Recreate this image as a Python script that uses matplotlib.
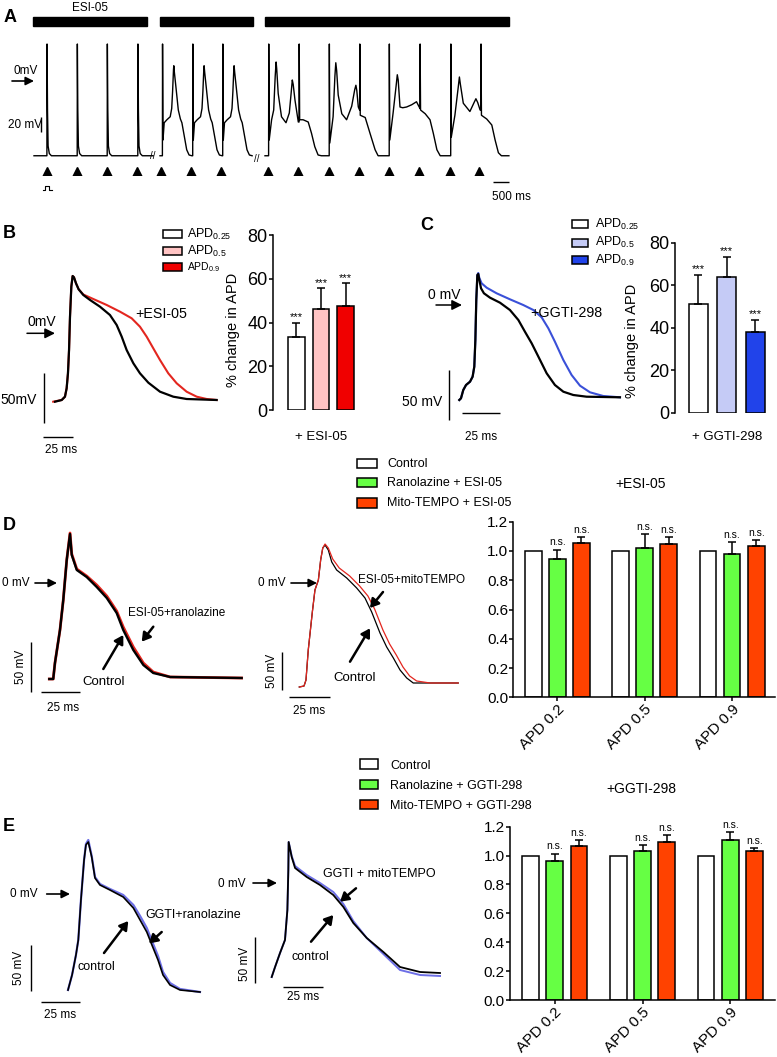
import matplotlib
matplotlib.use('Agg')
import matplotlib.pyplot as plt
from matplotlib.patches import Rectangle
from matplotlib.ticker import FormatStrFormatter
import numpy as np

plt.rcParams['font.family'] = ['Liberation Sans', 'DejaVu Sans']
plt.rcParams['mathtext.fontset'] = 'custom'
plt.rcParams['mathtext.rm'] = 'Liberation Sans'
plt.rcParams['mathtext.it'] = 'Liberation Sans:italic'
plt.rcParams['mathtext.bf'] = 'Liberation Sans:bold'

W, H = 777, 1057

# ------------------------------------------------------------------ data
# Panel A  (time in s, membrane potential in mV)
a_seg1_span = [0.0, 3.97]
a_seg1_spikes = [0.43, 1.44, 2.44, 3.46]
a_spike_t = [0.0, 0.005, 0.02, 0.04, 0.08, 0.15]
a_spike_v = [-101, 48, -40, -88, -98, -101]

a_seg2_span = [4.2, 7.27]
a_seg2_beats = [4.28, 5.29, 6.29]
a_ead_t = [0.0, 0.005, 0.02, 0.06, 0.15, 0.26, 0.31, 0.34, 0.37, 0.38, 0.40, 0.45, 0.53, 0.60, 0.65, 0.73, 0.81, 0.89, 0.98]
a_ead_v = [-101, 48, -80, -57, -53, -49, -38, -15, 14, 19, 10, -9, -40, -52, -57, -75, -93, -100, -101]

a_seg3_span = [7.7, 15.83]
a_seg3_pairs = [7.82, 9.84, 11.84, 13.89]
a_pair1_t = [0, 0.005, 0.02, 0.1, 0.17, 0.22, 0.25, 0.27, 0.32, 0.43, 0.58, 0.69, 0.75, 0.79, 0.82, 0.88, 0.99, 1.015, 1.02, 1.035, 1.15, 1.32, 1.43, 1.54, 1.65, 1.76]
a_pair1_v = [-101, 48, -80, -53, -40, 5, 24, 15, -18, -49, -57, -44, -18, 0, -6, -27, -56, -56, 48, -53, -53, -56, -71, -89, -100, -101]
a_pair2_t = [0, 0.005, 0.02, 0.13, 0.19, 0.22, 0.25, 0.3, 0.42, 0.58, 0.75, 0.85, 0.89, 0.92, 0.97, 1.015, 1.02, 1.035, 1.2, 1.36, 1.53, 1.63]
a_pair2_v = [-101, 48, -84, -49, 5, 23, 12, -20, -45, -53, -35, -13, -7, -14, -36, -40, 48, -47, -50, -71, -93, -101]
a_pair3_t = [0, 0.005, 0.02, 0.13, 0.23, 0.27, 0.3, 0.36, 0.45, 0.58, 0.75, 0.91, 1.0, 1.025, 1.03, 1.045, 1.2, 1.36, 1.47, 1.59, 1.7]
a_pair3_v = [-101, 48, -80, -44, -8, 7, 0, -36, -37, -36, -33, -29, -36, -38, 48, -40, -45, -53, -71, -93, -101]
a_pair4_t = [0, 0.005, 0.02, 0.14, 0.25, 0.29, 0.32, 0.42, 0.64, 0.78, 0.84, 0.9, 0.98, 1.005, 1.01, 1.025, 1.2, 1.37, 1.48, 1.59, 1.69]
a_pair4_v = [-101, 48, -76, -47, -10, 4, -5, -31, -42, -30, -25, -30, -40, -40, 48, -47, -52, -60, -80, -97, -101]
a_stim_times = [0.43, 1.43, 2.43, 3.43, 4.23, 5.23, 6.23,
                7.8, 8.8, 9.83, 10.83, 11.83, 12.83, 13.87, 14.83]

# Panel B traces (ms, mV)
b_ctrl_t = [0, 5.6, 8.3, 9.7, 10.8, 11.7, 12.5, 13.6, 14.7, 15.8, 17.5, 19.7, 23.6, 29.2, 37.5, 45.8, 51.4, 55.6, 59.7, 65.3, 70.8, 77.8, 87.5, 98.6, 109.7, 134.7]
b_ctrl_v = [-68.7, -67, -63.7, -55.3, -40.3, -17, 16.3, 46.3, 57, 55.7, 49.7, 43.7, 38, 33, 26.3, 18, 8, -3.7, -17, -30.3, -40.3, -49.7, -58.7, -63.7, -66, -67]
b_esi_t = [-1.5, 5.6, 8.3, 9.7, 10.8, 11.7, 12.5, 13.6, 14.7, 15.8, 17.5, 19.7, 23.6, 31.9, 43.1, 54.2, 63.9, 70.8, 76.4, 81.9, 87.5, 94.4, 101.4, 109.7, 118.1, 126.4, 134.7]
b_esi_v = [-68.7, -67, -63.7, -55.3, -40.3, -17, 16.3, 46.3, 57, 55.7, 49.7, 43.7, 38.5, 34, 28, 21.3, 14.7, 6.3, -3.7, -15.3, -27, -40.3, -50.3, -58.7, -63.7, -66, -67]
b_labels = ['APD$_{0.25}$', 'APD$_{0.5}$', 'APD$_{0.9}$']
b_values = [33.2, 46.4, 47.5]
b_err = [6.7, 9.2, 10.4]

# Panel C traces
c_ctrl_t = [0, 1.1, 2.6, 4.4, 7.0, 8.7, 9.8, 10.5, 11.1, 11.8, 12.4, 13.1, 14.2, 16.1, 20.1, 26.6, 33.1, 38.6, 42.9, 47.3, 51.7, 57.1, 62.5, 68.0, 74.5, 83.2, 105.0]
c_ctrl_v = [-95, -93.3, -85, -80, -76.7, -71.7, -61.7, -35, 5, 30, 31, 25, 16.7, 11.7, 7.3, 2.3, -5, -15, -26.7, -38.3, -51.7, -68.3, -80, -86.7, -90, -91.7, -92.3]
c_ggti_t = [0, 1.1, 2.6, 4.4, 7.0, 8.7, 9.8, 10.5, 11.1, 11.8, 12.4, 13.1, 14.6, 17.9, 24.4, 33.1, 41.8, 48.4, 53.8, 58.2, 62.5, 68.0, 73.4, 78.9, 85.4, 94.1, 105.0]
c_ggti_v = [-95, -93.3, -85, -80, -76.7, -71.7, -61.7, -35, 5, 30, 32, 27, 21.7, 17.3, 11.7, 5.7, 0, -5, -12.3, -23.3, -36.7, -55, -70, -80.7, -87.3, -91, -92.3]
c_labels = ['APD$_{0.25}$', 'APD$_{0.5}$', 'APD$_{0.9}$']
c_values = [51.1, 63.7, 38.1]
c_err = [13.7, 9.7, 5.5]

# Panel D traces
d1_ctrl_t = [0, 2.5, 3.6, 6.8, 8.9, 11.1, 13.2, 14.3, 17.5, 23.8, 30.2, 36.6, 42.9, 47.1, 53.5, 59.9, 66.2, 77.0, 122.5]
d1_ctrl_v = [-96, -96, -80, -47, -17, 23, 49, 28, 13, 6, -4, -15, -30, -47, -67, -82, -90, -94, -95]
d1_ran_t = [0, 2.5, 3.6, 6.8, 8.9, 11.1, 13.2, 14.3, 17.5, 23.8, 30.2, 36.6, 42.9, 47.1, 53.5, 59.9, 66.2, 77.0, 122.5]
d1_ran_v = [-96, -96, -80, -47, -17, 23, 50, 29, 14, 7, -2, -13, -28, -44, -64, -80, -89, -94, -95]
d2_ctrl_t = [0, 2.9, 4.1, 5.5, 8.0, 9.6, 11.7, 13.1, 14.4, 15.8, 17.8, 19.9, 22.9, 29.1, 35.2, 40.3, 44.4, 49.5, 53.6, 57.7, 61.8, 65.9, 69.9, 80.2, 97.5]
d2_ctrl_v = [-104, -103, -97, -67, -29, -7, 3, 23, 35, 38, 33, 21, 13, 5, -5, -15, -29, -50, -64, -75, -87, -95, -100, -100, -100]
d2_mito_t = [0, 2.9, 4.1, 5.5, 8.0, 9.6, 11.7, 13.1, 14.4, 15.8, 17.8, 20.5, 24.5, 30.9, 37.0, 42.1, 46.2, 51.3, 55.4, 59.5, 63.6, 67.7, 72.0, 80.2, 97.5]
d2_mito_v = [-104, -103, -97, -67, -29, -7, 3, 23, 35, 39, 35, 24, 15, 7, -3, -13, -26, -47, -61, -72, -84, -93, -98, -100, -100]
d_groups = ['APD 0.2', 'APD 0.5', 'APD 0.9']
d_control = [1.0, 1.0, 1.0]
d_ran = [0.945, 1.018, 0.977]
d_ran_err = [0.065, 0.098, 0.087]
d_mito = [1.053, 1.048, 1.034]
d_mito_err = [0.041, 0.046, 0.041]
d_legend = ['Control', 'Ranolazine + ESI-05', 'Mito-TEMPO + ESI-05']

# Panel E traces
e1_ctrl_t = [0, 2.6, 5.1, 6.6, 8.3, 10.3, 11.5, 13.0, 15.2, 17.3, 20.5, 26.9, 35.4, 41.9, 46.2, 50.5, 53.8, 57.7, 60.9, 65.4, 71.8, 84.6]
e1_ctrl_v = [-96, -81, -61, -46, -6, 34, 49, 52, 37, 16, 9, 4, -3, -14, -26, -38, -51, -66, -81, -91, -96, -98]
e1_ran_t = [0, 2.6, 5.1, 6.6, 8.3, 10.3, 11.5, 13.0, 15.2, 17.3, 20.5, 26.9, 35.4, 41.9, 46.2, 50.5, 53.8, 57.7, 60.9, 65.4, 71.8, 84.6]
e1_ran_v = [-96, -81, -61, -46, -6, 34, 50, 54, 38, 17, 10, 5, -1, -11, -22, -34, -47, -62, -78, -89, -95, -98]
e2_ctrl_t = [0, 2.1, 5.2, 8.3, 9.8, 10.4, 10.6, 12.5, 14.6, 21.9, 30.2, 38.5, 44.8, 51.0, 59.4, 69.8, 80.2, 92.7, 105.2]
e2_ctrl_v = [-94, -84, -70, -57, -27, 13, 41, 26, 15, 6, -2, -12, -24, -40, -55, -69, -84, -89, -90]
e2_mito_t = [0, 2.1, 5.2, 8.3, 9.8, 10.4, 10.6, 12.5, 14.6, 21.9, 30.2, 38.5, 44.8, 51.0, 59.4, 69.8, 80.2, 92.7, 105.2]
e2_mito_v = [-94, -84, -70, -57, -27, 13, 41, 27, 17, 8, 0, -9, -21, -38, -55, -71, -87, -92, -93]
e_groups = ['APD 0.2', 'APD 0.5', 'APD 0.9']
e_control = [1.0, 1.0, 1.0]
e_ran = [0.961, 1.03, 1.11]
e_ran_err = [0.053, 0.041, 0.05]
e_mito = [1.069, 1.094, 1.03]
e_mito_err = [0.036, 0.046, 0.022]
e_legend = ['Control', 'Ranolazine + GGTI-298', 'Mito-TEMPO + GGTI-298']

# ------------------------------------------------------------------ colours
GREEN = '#66ff44'
ORANGE = '#ff4200'
PINK = '#ffc3c3'
RED = '#f00000'
LBLUE = '#c5cbf6'
BLUE = '#2143ea'
TRACE_RED = '#e3261f'
TRACE_BLUE = '#3a50d8'
TRACE_LBLUE = '#6d6fe6'

fig = plt.figure(figsize=(W / 100, H / 100), dpi=100)


def fbox(x0, y0, x1, y1):
    return [x0 / W, 1 - y1 / H, (x1 - x0) / W, (y1 - y0) / H]


def trace_ax(box, t0px, pt, v0px, pv):
    x0, y0, x1, y1 = box
    ax = fig.add_axes(fbox(*box))
    ax.set_xlim((x0 - t0px) / pt, (x1 - t0px) / pt)
    ax.set_ylim((v0px - y1) / pv, (v0px - y0) / pv)
    ax.axis('off')
    return ax


# overlay in pixel coordinates for labels / scale bars / arrows
ov = fig.add_axes([0, 0, 1, 1], zorder=10)
ov.set_xlim(0, W)
ov.set_ylim(H, 0)
ov.axis('off')


def txt(x, y, s, size=8.5, ha='left', va='center', **kw):
    ov.text(x, y, s, fontsize=size, ha=ha, va=va, **kw)


def hline(x0, x1, y, lw=1.0):
    ov.plot([x0, x1], [y, y], color='black', lw=lw, solid_capstyle='butt')


def vline(x, y0, y1, lw=1.0):
    ov.plot([x, x], [y0, y1], color='black', lw=lw, solid_capstyle='butt')


def arrow(x0, y0, x1, y1, lw=1.0, hw=0.35, hl=0.7):
    ov.annotate('', xy=(x1, y1), xytext=(x0, y0),
                arrowprops=dict(arrowstyle=f'-|>,head_width={hw},head_length={hl}',
                                color='black', lw=lw, shrinkA=0, shrinkB=0))


# ------------------------------------------------------------------ Panel A
axA = trace_ax((30, 30, 515, 175), 34, 30.0, 80, 0.75)


def build(span, onsets, shapes_t, shapes_v):
    ts, vs = [span[0]], [-101]
    for on, st, sv in zip(onsets, shapes_t, shapes_v):
        ts += [on + d for d in st]
        vs += list(sv)
    ts.append(span[1])
    vs.append(-101)
    return ts, vs


t1, v1 = build(a_seg1_span, a_seg1_spikes, [a_spike_t] * 4, [a_spike_v] * 4)
t2, v2 = build(a_seg2_span, a_seg2_beats, [a_ead_t] * 3, [a_ead_v] * 3)
t3, v3 = build(a_seg3_span, a_seg3_pairs,
               [a_pair1_t, a_pair2_t, a_pair3_t, a_pair4_t],
               [a_pair1_v, a_pair2_v, a_pair3_v, a_pair4_v])
for tt, vv in [(t1, v1), (t2, v2), (t3, v3)]:
    axA.plot(tt, vv, color='black', lw=1.0)
axA.plot(a_stim_times, [-123] * len(a_stim_times), linestyle='none', marker='^',
         color='black', markersize=6.5)

txt(4, 18, 'A', size=13, weight='bold')
txt(90, 8, 'ESI-05', size=8.5, ha='center')
for x0, x1 in [(33.3, 147.3), (160, 252.7), (265, 509.3)]:
    ov.add_patch(Rectangle((x0, 16.7), x1 - x0, 9, color='black'))
txt(13, 71.5, '0mV', size=8.5)
arrow(12, 81, 34, 81, lw=1.2, hw=0.25, hl=0.5)
txt(8, 125.5, '20 mV', size=8.5)
vline(40.7, 116.7, 132.3)
txt(153, 156, '//', size=7, ha='center')
txt(257, 159, '//', size=7, ha='center')
ov.plot([42.5, 45, 45, 49, 49, 51.5], [190, 190, 186, 186, 190, 190], color='black', lw=0.8)
hline(493.3, 509, 181.7)
txt(492, 197, '500 ms', size=8.5)

# ------------------------------------------------------------------ Panel B
axBt = trace_ax((45, 260, 225, 410), 55, 1.2, 333, 1.0)
axBt.plot(b_esi_t, b_esi_v, color=TRACE_RED, lw=1.5)
axBt.plot(b_ctrl_t, b_ctrl_v, color='black', lw=1.6)

txt(3, 233, 'B', size=13, weight='bold')
txt(28, 321.5, '0mV', size=10)
arrow(27, 333.3, 55, 333.3, lw=1.1, hw=0.3, hl=0.6)
txt(135, 314, '+ESI-05', size=10.3)
txt(0, 400, '50mV', size=10)
vline(44.3, 373, 423)
hline(43, 73, 437)
txt(45, 450, '25 ms', size=8.5)

b_leg_y = [234, 251, 266.7]
b_leg_fs = [9, 9, 7.5]
for y, lab, col, fs in zip(b_leg_y, b_labels, ['white', PINK, RED], b_leg_fs):
    ov.add_patch(Rectangle((163.3, y - 4.2), 18.4, 8.4, facecolor=col,
                           edgecolor='black', lw=1.1))
    txt(186.7, y, lab, size=fs)


def style_bar_axes(ax, fs):
    for s in ['top', 'right']:
        ax.spines[s].set_visible(False)
    for s in ['left', 'bottom']:
        ax.spines[s].set_linewidth(1.1)
    ax.tick_params(axis='both', direction='out', length=2.8, width=1.1,
                   labelsize=fs, pad=1)


axB = fig.add_axes(fbox(272.7, 235, 362, 410))
xB = np.arange(3)
axB.bar(xB, b_values, width=0.68, color=['white', PINK, RED], edgecolor='black', linewidth=1.1)
axB.errorbar(xB, b_values, yerr=[np.zeros(3), b_err], fmt='none', ecolor='black',
             elinewidth=1.1, capsize=3, capthick=1.1)
for xi, v, e in zip(xB, b_values, b_err):
    axB.annotate('***', (xi, v + e), xytext=(0, 0.5), textcoords='offset points',
                 ha='center', va='bottom', fontsize=8)
axB.set_xlim(-0.95, 2.66)
axB.set_ylim(0, 80)
axB.set_yticks([0, 20, 40, 60, 80])
axB.set_xticks([])
style_bar_axes(axB, 13)
axB.spines['bottom'].set_visible(False)
axB.set_ylabel('% change in APD', fontsize=10.5)
axB.yaxis.set_label_coords(-0.366, 0.457)
txt(321, 437, '+ ESI-05', size=9.5, ha='center')

# ------------------------------------------------------------------ Panel C
axCt = trace_ax((455, 260, 625, 410), 459.3, 1.53, 305, 1.0)
axCt.plot(c_ggti_t, c_ggti_v, color=TRACE_BLUE, lw=1.5)
axCt.plot(c_ctrl_t, c_ctrl_v, color='black', lw=1.6)

txt(420, 225, 'C', size=13, weight='bold')
txt(428, 295, '0 mV', size=10)
arrow(436, 305, 462, 305, lw=1.1, hw=0.3, hl=0.6)
txt(530, 313, '+GGTI-298', size=10.3)
txt(402, 401.7, '50 mV', size=10)
vline(449.3, 370, 420)
hline(461.7, 500, 413.3)
txt(481, 437, '25 ms', size=8.5, ha='center')

c_leg_y = [224, 242.7, 260]
for y, lab, col in zip(c_leg_y, c_labels, ['white', LBLUE, BLUE]):
    ov.add_patch(Rectangle((571.7, y - 4.2), 16.3, 8.4, facecolor=col,
                           edgecolor='black', lw=1.1))
    txt(595, y, lab, size=9)

axC = fig.add_axes(fbox(675, 242.7, 772, 412.7))
xC = np.arange(3)
axC.bar(xC, c_values, width=0.67, color=['white', LBLUE, BLUE], edgecolor='black', linewidth=1.1)
axC.errorbar(xC, c_values, yerr=[np.zeros(3), c_err], fmt='none', ecolor='black',
             elinewidth=1.1, capsize=3, capthick=1.1)
for xi, v, e in zip(xC, c_values, c_err):
    axC.annotate('***', (xi, v + e), xytext=(0, 0.5), textcoords='offset points',
                 ha='center', va='bottom', fontsize=8)
axC.set_xlim(-0.83, 2.6)
axC.set_ylim(0, 80)
axC.set_yticks([0, 20, 40, 60, 80])
axC.set_xticks([])
style_bar_axes(axC, 13)
axC.spines['bottom'].set_visible(False)
axC.set_ylabel('% change in APD', fontsize=10.5)
axC.yaxis.set_label_coords(-0.368, 0.423)
txt(727, 437, '+ GGTI-298', size=9.5, ha='center')

# ------------------------------------------------------------------ Panel D
axD1 = trace_ax((45, 525, 245, 692), 49.3, 1.57, 583, 1.0)
axD1.plot(d1_ran_t, d1_ran_v, color=TRACE_RED, lw=2.0)
axD1.plot(d1_ctrl_t, d1_ctrl_v, color='black', lw=1.7)

axD2 = trace_ax((295, 535, 462, 692), 299.3, 1.63, 583, 1.0)
axD2.plot(d2_ctrl_t, d2_ctrl_v, color='black', lw=0.9)
axD2.plot(d2_mito_t, d2_mito_v, color=TRACE_RED, lw=0.9)

txt(3, 525, 'D', size=13, weight='bold')
txt(2, 583, '0 mV', size=8.5)
arrow(35, 583, 57, 583, lw=1.2, hw=0.25, hl=0.5)
txt(128, 613, 'ESI-05+ranolazine', size=8.5)
arrow(153.3, 626.7, 141.7, 641.7, lw=1.8, hw=0.3, hl=0.5)
txt(82, 681.7, 'Control', size=9.5)
arrow(103.3, 669, 123.3, 635, lw=1.8, hw=0.3, hl=0.5)
txt(21, 666.7, '50 mV', size=8.5, ha='center', rotation=90)
vline(30.7, 641.7, 691.7)
hline(40.7, 80, 692.3)
txt(63.5, 708, '25 ms', size=8.5, ha='center')

txt(258, 583, '0 mV', size=8.5)
arrow(291, 583, 317, 583, lw=1.2, hw=0.25, hl=0.5)
txt(358, 580, 'ESI-05+mitoTEMPO', size=8.5)
arrow(383, 592, 370, 608, lw=1.8, hw=0.3, hl=0.5)
txt(333, 678, 'Control', size=9.5)
arrow(350, 661.7, 370, 628.3, lw=1.8, hw=0.3, hl=0.5)
txt(271.7, 671, '50 mV', size=8.5, ha='center', rotation=90)
vline(281.7, 651.7, 690)
hline(289.3, 330, 697.3)
txt(309, 711, '25 ms', size=8.5, ha='center')

d_leg_y = [463.3, 482.3, 502.7]
for y, lab, col in zip(d_leg_y, d_legend, ['white', GREEN, ORANGE]):
    ov.add_patch(Rectangle((357, y - 4.8), 20, 9.6, facecolor=col,
                           edgecolor='black', lw=1.1))
    txt(387, y + 0.7, lab, size=9)
txt(641, 484, '+ESI-05', size=10, ha='center')


def group_bars(ax, ctrl, ran, ran_err, mito, mito_err, groups):
    x = np.arange(3)
    off, w = 0.275, 0.19
    ax.bar(x - off, ctrl, w, color='white', edgecolor='black', linewidth=1.1)
    ax.bar(x, ran, w, color=GREEN, edgecolor='black', linewidth=1.1)
    ax.bar(x + off, mito, w, color=ORANGE, edgecolor='black', linewidth=1.1)
    ax.errorbar(x, ran, yerr=[np.zeros(3), ran_err], fmt='none', ecolor='black',
                elinewidth=1.1, capsize=2.6, capthick=1.1)
    ax.errorbar(x + off, mito, yerr=[np.zeros(3), mito_err], fmt='none', ecolor='black',
                elinewidth=1.1, capsize=2.6, capthick=1.1)
    for xs, vals, errs in [(x, ran, ran_err), (x + off, mito, mito_err)]:
        for xi, v, e in zip(xs, vals, errs):
            ax.annotate('n.s.', (xi, v + e), xytext=(0, 1.5), textcoords='offset points',
                        ha='center', va='bottom', fontsize=7.5)
    ax.set_ylim(0, 1.2)
    ax.set_yticks([0, 0.2, 0.4, 0.6, 0.8, 1.0, 1.2])
    ax.yaxis.set_major_formatter(FormatStrFormatter('%.1f'))
    ax.set_xticks(x)
    ax.set_xticklabels(groups, rotation=45, ha='right', rotation_mode='anchor')
    style_bar_axes(ax, 11)


axD = fig.add_axes(fbox(513.3, 521.7, 775, 697.3))
group_bars(axD, d_control, d_ran, d_ran_err, d_mito, d_mito_err, d_groups)
axD.set_xlim(-0.503, 2.49)

# ------------------------------------------------------------------ Panel E
axE1 = trace_ax((60, 835, 205, 1000), 68, 1.56, 894, 1.0)
axE1.plot(e1_ran_t, e1_ran_v, color=TRACE_LBLUE, lw=1.6)
axE1.plot(e1_ctrl_t, e1_ctrl_v, color='black', lw=1.2)

axE2 = trace_ax((268, 835, 445, 985), 271.7, 1.6, 883, 1.0)
axE2.plot(e2_mito_t, e2_mito_v, color=TRACE_LBLUE, lw=1.4)
axE2.plot(e2_ctrl_t, e2_ctrl_v, color='black', lw=1.3)

txt(3, 826.7, 'E', size=13, weight='bold')
txt(10, 894, '0 mV', size=8.5)
arrow(46.7, 894, 70, 894, lw=1.2, hw=0.25, hl=0.5)
txt(145, 915, 'GGTI+ranolazine', size=9)
arrow(161.7, 932, 149, 943.5, lw=1.8, hw=0.3, hl=0.5)
txt(78, 967, 'control', size=9)
arrow(104, 953, 128.3, 921, lw=1.8, hw=0.3, hl=0.5)
txt(19, 968, '50 mV', size=8.5, ha='center', rotation=90)
vline(31, 945, 991)
hline(41, 80, 1002)
txt(60.5, 1015, '25 ms', size=8.5, ha='center')

txt(218, 884, '0 mV', size=8.5)
arrow(253, 883, 277, 883, lw=1.2, hw=0.25, hl=0.5)
txt(323.3, 874, 'GGTI + mitoTEMPO', size=9)
arrow(356, 888.3, 340, 901.7, lw=1.8, hw=0.3, hl=0.5)
txt(291.7, 957, 'control', size=9)
arrow(311, 941.7, 333.3, 915, lw=1.8, hw=0.3, hl=0.5)
txt(245, 964, '50 mV', size=8.5, ha='center', rotation=90)
vline(255, 937, 982.7)
hline(282.7, 322.7, 986.7)
txt(302.7, 997, '25 ms', size=8.5, ha='center')

e_leg_y = [764, 784.3, 804.3]
for y, lab, col in zip(e_leg_y, e_legend, ['white', GREEN, ORANGE]):
    ov.add_patch(Rectangle((360, y - 4.8), 18, 9.6, facecolor=col,
                           edgecolor='black', lw=1.1))
    txt(390, y + 1.7, lab, size=9)
txt(641.7, 789.3, '+GGTI-298', size=10, ha='center')

axE = fig.add_axes(fbox(510, 826.7, 775, 1000))
group_bars(axE, e_control, e_ran, e_ran_err, e_mito, e_mito_err, e_groups)
axE.set_xlim(-0.51, 2.51)

fig.savefig('out.png', dpi=100)
